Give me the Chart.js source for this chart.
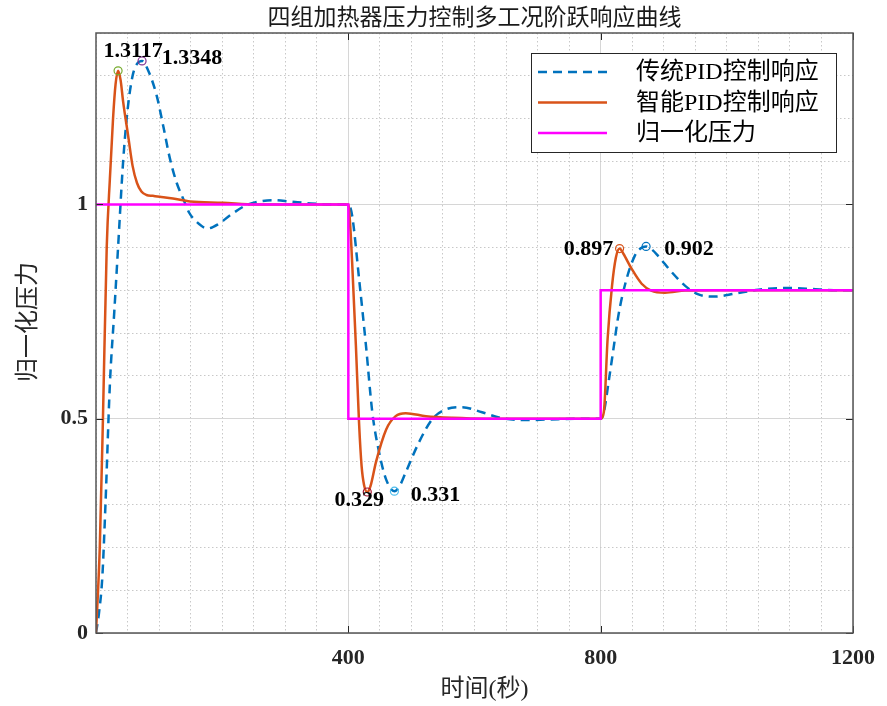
<!DOCTYPE html>
<html>
<head>
<meta charset="utf-8">
<script src="https://cdn.jsdelivr.net/npm/chart.js@4.4.1/dist/chart.umd.min.js"></script>
<style>
  html, body { margin: 0; padding: 0; background: #fff; }
</style>
</head>
<body>
<canvas id="pressureChart" width="887" height="706"></canvas>
<script>
"use strict";

// time (s) / normalized pressure
const tradT = [0, 5, 10, 15, 22, 29, 35, 43, 50, 58, 65, 73, 82, 96, 107, 117, 128, 138, 148, 159, 177, 195, 212, 238, 260, 280, 307, 335, 370, 400,
  406, 417, 428, 438, 449, 460, 473, 482, 491, 512, 533, 555, 580, 612, 644, 686, 733, 776, 800,
  805, 813, 820, 828, 839, 854, 863, 872, 881, 891, 912, 934, 955, 981, 1013, 1050, 1092, 1133, 1170, 1200];
const tradV = [0, 0.05, 0.13, 0.3, 0.58, 0.75, 0.9, 1.1, 1.22, 1.3, 1.328, 1.3348, 1.315, 1.255, 1.18, 1.108, 1.05, 1.014, 0.98, 0.96, 0.944, 0.955, 0.974, 0.998, 1.007, 1.01, 1.007, 1.003, 1.0, 1.0,
  0.974, 0.827, 0.67, 0.515, 0.42, 0.358, 0.331, 0.345, 0.375, 0.445, 0.499, 0.522, 0.527, 0.515, 0.501, 0.497, 0.499, 0.5, 0.5,
  0.515, 0.59, 0.66, 0.74, 0.815, 0.88, 0.897, 0.902, 0.895, 0.88, 0.843, 0.81, 0.79, 0.785, 0.792, 0.801, 0.805, 0.803, 0.8, 0.8];

const smartT = [0, 6, 11, 17, 22, 27, 31, 35, 39, 43, 51, 58, 65, 72, 80, 90, 101, 122, 149, 201, 254, 400,
  403, 406, 412, 417, 421, 425, 430, 435, 444, 460, 475, 491, 523, 565, 620, 800,
  805, 811, 818, 824, 830, 836, 849, 865, 880, 902, 934, 980, 1200];
const smartV = [0, 0.2, 0.5, 0.9, 1.06, 1.2, 1.28, 1.3117, 1.29, 1.24, 1.16, 1.09, 1.05, 1.03, 1.022, 1.02, 1.018, 1.014, 1.007, 1.004, 1.0, 1.0,
  0.95, 0.866, 0.67, 0.49, 0.39, 0.345, 0.329, 0.342, 0.4, 0.475, 0.506, 0.513, 0.506, 0.502, 0.5, 0.5,
  0.515, 0.686, 0.81, 0.875, 0.897, 0.885, 0.85, 0.815, 0.799, 0.794, 0.799, 0.8, 0.8];

const refT = [0, 400, 400, 800, 800, 1200];
const refV = [1, 1, 0.5, 0.5, 0.8, 0.8];

const peakT = [35, 73, 430, 473, 830, 872];
const peakV = [1.3117, 1.3348, 0.329, 0.331, 0.897, 0.902];
const peakText = ["1.3117", "1.3348", "0.329", "0.331", "0.897", "0.902"];
const peakColors = ["#77AC30", "#7E2F8E", "#A2142F", "#4DBEEE", "#D95319", "#0072BD"];

const xMajor = [400, 800, 1200];
const yMajor = [0, 0.5, 1];
const seriesNames = ["传统PID控制响应", "智能PID控制响应", "归一化压力"];
const chartTitle = "四组加热器压力控制多工况阶跃响应曲线";
const xTitle = "时间(秒)";
const yTitle = "归一化压力";

const BLUE = "#0072BD";
const ORANGE = "#D95319";
const MAGENTA = "#FF00FF";
const CJK = '"Noto Sans CJK SC", sans-serif';
const MIX = '"Liberation Serif", "Noto Sans CJK SC", serif';

function pairs(ts, vs) {
  return ts.map((t, i) => ({ x: t, y: vs[i] }));
}
function isMajor(list, v) {
  return list.some((m) => Math.abs(m - v) < 1e-6);
}

const frame = {
  id: "matlabFrame",
  afterDraw(chart) {
    const { ctx, chartArea: a, scales } = chart;
    const x = scales.x;
    const y = scales.y;
    ctx.save();

    // box and inward tick marks
    ctx.strokeStyle = "#262626";
    ctx.lineWidth = 1;
    ctx.beginPath();
    xMajor.forEach((v) => {
      const px = Math.round(x.getPixelForValue(v)) + 0.5;
      ctx.moveTo(px, a.bottom); ctx.lineTo(px, a.bottom - 7);
      ctx.moveTo(px, a.top); ctx.lineTo(px, a.top + 7);
    });
    yMajor.forEach((v) => {
      const py = Math.round(y.getPixelForValue(v)) + 0.5;
      ctx.moveTo(a.left, py); ctx.lineTo(a.left + 7, py);
      ctx.moveTo(a.right, py); ctx.lineTo(a.right - 7, py);
    });
    ctx.stroke();
    ctx.strokeStyle = "#555";
    ctx.lineWidth = 1.5;
    ctx.strokeRect(a.left, a.top, a.right - a.left, a.bottom - a.top);

    // peak labels
    const offsets = [[15, -20], [50, -3], [-8, 8], [41, 4], [-31, 1], [43, 3]];
    ctx.fillStyle = "#000";
    ctx.font = 'bold 22px "Liberation Serif", serif';
    ctx.textAlign = "center";
    ctx.textBaseline = "middle";
    peakT.forEach((t, i) => {
      ctx.fillText(peakText[i], x.getPixelForValue(t) + offsets[i][0], y.getPixelForValue(peakV[i]) + offsets[i][1]);
    });

    // legend
    ctx.fillStyle = "#fff";
    ctx.fillRect(531, 53, 305, 99);
    ctx.strokeStyle = "#262626";
    ctx.lineWidth = 1;
    ctx.strokeRect(531.5, 53.5, 305, 99);
    const styles = [[BLUE, [9, 6]], [ORANGE, []], [MAGENTA, []]];
    ctx.font = "24px " + MIX;
    ctx.textAlign = "left";
    seriesNames.forEach((name, i) => {
      const ly = 72 + i * 30.5;
      ctx.strokeStyle = styles[i][0];
      ctx.setLineDash(styles[i][1]);
      ctx.lineWidth = 2.5;
      ctx.beginPath();
      ctx.moveTo(538, ly);
      ctx.lineTo(607, ly);
      ctx.stroke();
      ctx.setLineDash([]);
      ctx.fillStyle = "#000";
      ctx.fillText(name, 636, ly + 1);
    });

    // titles
    ctx.fillStyle = "#1a1a1a";
    ctx.textAlign = "center";
    ctx.font = "23px " + CJK;
    ctx.fillText(chartTitle, (a.left + a.right) / 2, 16);
    ctx.fillStyle = "#262626";
    ctx.font = "24px " + MIX;
    ctx.fillText(xTitle, (a.left + a.right) / 2 + 10, 690);
    ctx.translate(26, 322);
    ctx.rotate(-Math.PI / 2);
    ctx.font = "24px " + CJK;
    ctx.fillText(yTitle, 0, 0);
    ctx.restore();
  },
};

const chart = new Chart(document.getElementById("pressureChart"), {
  type: "line",
  data: {
    datasets: [
      {
        label: seriesNames[0],
        data: pairs(tradT, tradV),
        borderColor: BLUE,
        borderWidth: 2.5,
        borderDash: [9, 6],
        cubicInterpolationMode: "monotone",
        pointRadius: 0,
        order: 3,
      },
      {
        label: seriesNames[1],
        data: pairs(smartT, smartV),
        borderColor: ORANGE,
        borderWidth: 2.5,
        cubicInterpolationMode: "monotone",
        pointRadius: 0,
        order: 2,
      },
      {
        label: seriesNames[2],
        data: pairs(refT, refV),
        borderColor: MAGENTA,
        borderWidth: 2.5,
        tension: 0,
        pointRadius: 0,
        order: 1,
      },
      {
        label: "peaks",
        data: pairs(peakT, peakV),
        showLine: false,
        pointRadius: 4,
        pointBorderWidth: 1.2,
        pointBackgroundColor: "rgba(255,255,255,0)",
        pointBorderColor: peakColors,
        order: 0,
      },
    ],
  },
  options: {
    responsive: false,
    animation: false,
    layout: { padding: { left: 0, right: 32, top: 33, bottom: 0 } },
    plugins: {
      legend: { display: false },
      title: { display: false },
      tooltip: { enabled: false },
    },
    scales: {
      x: {
        type: "linear",
        min: 0,
        max: 1200,
        afterFit: (scale) => { scale.height = 73; },
        ticks: {
          stepSize: 50,
          autoSkip: false,
          maxRotation: 0,
          padding: 12,
          color: "#262626",
          font: { family: '"Liberation Serif", serif', size: 22, weight: "bold" },
          callback: (v) => (isMajor(xMajor, v) ? String(v) : ""),
        },
        grid: {
          drawTicks: false,
          lineWidth: 1,
          color: (c) => (isMajor(xMajor, c.tick.value) ? "#d6d6d6" : "#c8c8c8"),
        },
        border: {
          display: false,
          dash: (c) => (isMajor(xMajor, c.tick.value) ? [] : [1.5, 2.5]),
        },
      },
      y: {
        type: "linear",
        min: 0,
        max: 1.4,
        afterFit: (scale) => { scale.width = 96; },
        ticks: {
          stepSize: 0.1,
          autoSkip: false,
          padding: 8,
          color: "#262626",
          font: { family: '"Liberation Serif", serif', size: 22, weight: "bold" },
          callback: (v) => (isMajor(yMajor, v) ? String(Math.round(v * 10) / 10) : ""),
        },
        grid: {
          drawTicks: false,
          lineWidth: 1,
          color: (c) => (isMajor(yMajor, c.tick.value) ? "#d6d6d6" : "#c8c8c8"),
        },
        border: {
          display: false,
          dash: (c) => (isMajor(yMajor, c.tick.value) ? [] : [1.5, 2.5]),
        },
      },
    },
  },
  plugins: [frame],
});
</script>
</body>
</html>
